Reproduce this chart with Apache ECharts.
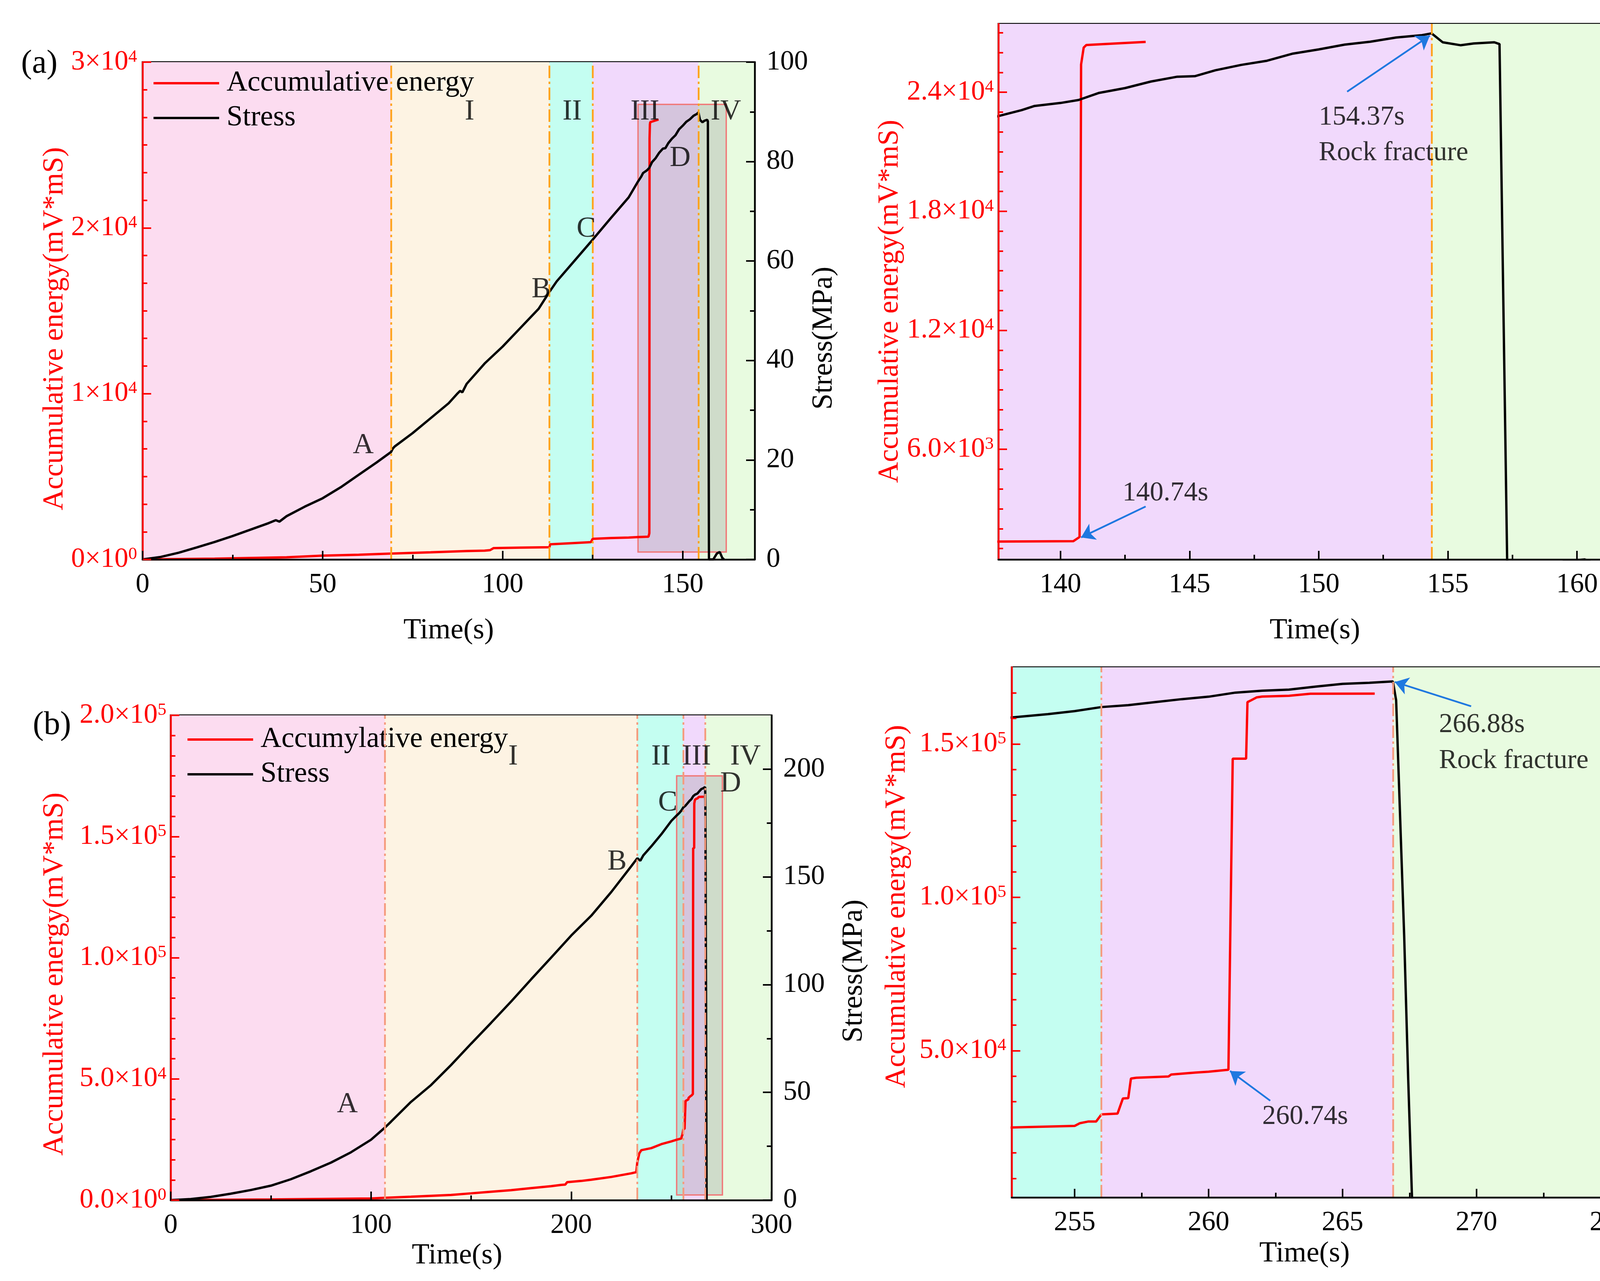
<!DOCTYPE html>
<html>
<head>
<meta charset="utf-8">
<script src="https://cdn.jsdelivr.net/npm/echarts@6/dist/echarts.min.js"></script>
<style>html,body{margin:0;padding:0;background:#fff}#chart{width:4451px;height:3279px}</style>
</head>
<body>
<div id="chart"></div>
<script>
// ---------- test (a) ----------
var aStressTime = [0, 5, 10, 15, 20, 25, 30, 35, 37, 38, 40, 45, 50, 55, 60, 65, 69, 69.5, 70, 75, 80, 85, 87.5, 88.2, 88.8, 90, 95, 100, 105, 110, 113, 115, 120, 125, 130, 135, 137.6, 138.5, 139, 140, 140.7, 141.5, 142.5, 143.5, 144.5, 145.2, 146, 147, 148, 149, 150, 151, 152, 153, 154, 154.37, 154.8, 155.5, 156, 156.8, 157, 157.3, 158.5, 159.5, 160.3, 161, 161.5];
var aStress = [0, 0.5, 1.35, 2.4, 3.5, 4.7, 6.0, 7.3, 7.9, 7.6, 8.7, 10.6, 12.3, 14.5, 17.0, 19.5, 21.6, 22.3, 22.7, 25.4, 28.4, 31.4, 33.4, 33.9, 33.6, 35.3, 39.4, 42.8, 46.6, 50.4, 53.8, 55.9, 60.1, 64.3, 68.6, 72.8, 76.0, 77.0, 77.7, 78.2, 78.7, 79.9, 80.7, 81.8, 82.6, 82.7, 83.7, 84.6, 85.3, 86.5, 87.2, 88.0, 88.5, 89.2, 89.6, 89.9, 88.4, 87.9, 88.2, 88.4, 88.1, 0, 0, 1.2, 1.5, 0.3, 0];
var aEnergyTime = [0, 20, 40, 50, 60, 69, 80, 90, 95, 96.5, 97.5, 105, 113, 113.2, 120, 124.5, 125, 130, 135, 137.6, 140.5, 140.74, 140.8, 140.9, 141, 142, 143.3];
var aEnergy = [0, 50, 127, 230, 280, 355, 430, 507, 530, 560, 685, 710, 735, 913, 990, 1040, 1243, 1293, 1320, 1349, 1370, 1580, 25400, 26250, 26380, 26450, 26540];
var aStageBounds = [0, 69, 113, 125, 154.37, 170];
var aStageNames = ['I', 'II', 'III', 'IV'];
var aStageNameTime = [90.8, 119.3, 139.5, 162];
var aStageNameStress = 90;
var aPointNames = ['A', 'B', 'C', 'D'];
var aPointTime = [61.3, 110.7, 123.2, 149.3];
var aPointStress = [22.9, 54.2, 66.4, 80.6];
var aZoomBox = [137.6, 162.1, 1.5, 91.5];
var aNotes = ['154.37s', 'Rock fracture', '140.74s'];
var aNoteTime = [150.0, 150.0, 142.4];
var aNoteStress = [75.8, 69.8, 12.6];
var aArrowFrom = [[151.1, 80.1], [143.3, 10.4]];
var aArrowTo = [[154.3, 89.5], [140.8, 5.2]];

// ---------- test (b) ----------
var bStressTime = [0, 10, 20, 30, 40, 50, 60, 70, 80, 90, 100, 107, 110, 120, 130, 140, 150, 160, 170, 180, 190, 200, 210, 220, 230, 233, 234.5, 236, 240, 245, 250, 252.65, 254, 255, 256, 257, 258, 259, 260, 261, 262, 263, 264, 265, 266, 266.88, 267.0, 267.3, 267.45, 267.6];
var bStress = [0, 0.5, 1.5, 3.0, 4.7, 6.7, 9.7, 13.4, 17.4, 22.2, 28.0, 33.7, 36.4, 45.6, 53.4, 62.7, 72.6, 82.3, 92.2, 102.5, 112.6, 122.8, 132.0, 143.0, 155.0, 158.7, 157.5, 160.0, 164.2, 169.8, 176.0, 178.5, 179.7, 180.8, 182.3, 183.0, 184.1, 185.2, 186.1, 187.6, 188.3, 188.7, 189.8, 190.8, 191.2, 191.7, 184.8, 98.5, 46.0, 0];
var bEnergyTime = [0, 50, 100, 107, 120, 140, 150, 160, 170, 180, 190, 195, 197, 198, 205, 210, 220, 230, 232.5, 233, 234, 235, 240, 245, 250, 252.65, 255, 255.2, 255.5, 255.8, 256, 256.6, 256.8, 257.0, 257.1, 257.3, 258.5, 258.6, 259.5, 260, 260.74, 260.9, 261.4, 261.45, 261.6, 261.8, 262, 262.5, 263, 263.8, 266.2];
var bEnergy = [0, 300, 700, 950, 1400, 2145, 2800, 3465, 4125, 4950, 5775, 6270, 6400, 7425, 7920, 8415, 9570, 11055, 11550, 15675, 19300, 20600, 21450, 23100, 24250, 24935, 25455, 26360, 26880, 26880, 29220, 29480, 34400, 34500, 40900, 41170, 41560, 42200, 42860, 43120, 43770, 145195, 145200, 163636, 164290, 165200, 165450, 165580, 165700, 166360, 166400];
var bStageBounds = [0, 107, 233, 256, 266.88, 300];
var bStageNames = ['I', 'II', 'III', 'IV'];
var bStageNameTime = [171, 244.8, 262.6, 287];
var bStageNameStress = 205.6;
var bPointNames = ['A', 'B', 'C', 'D'];
var bPointTime = [88.2, 222.9, 248.2, 279.6];
var bPointStress = [44.4, 156.9, 184.3, 193.1];
var bZoomBox = [252.65, 275.5, 2.4, 196.9];
var bNotes = ['266.88s', 'Rock fracture', '260.74s'];
var bNoteTime = [268.6, 268.6, 262.0];
var bNoteStress = [175.7, 162.6, 32.0];
var bArrowFrom = [[269.8, 182.6], [262.3, 37.9]];
var bArrowTo = [[266.95, 191.5], [260.8, 48.8]];

// tick values
var aTimeTicks = [0, 50, 100, 150], aTimeMinor = [25, 75, 125];
var aEnergyTicks = [0, 10000, 20000, 30000];
var aStressTicks = [0, 20, 40, 60, 80, 100], aStressMinor = [10, 30, 50, 70, 90];
var arTimeTicks = [140, 145, 150, 155, 160], arTimeMinor = [142.5, 147.5, 152.5, 157.5];
var arEnergyTicks = [6000, 12000, 18000, 24000];
var arStressTicks = [20, 40, 60, 80], arStressMinor = [10, 30, 50, 70, 90];
var bTimeTicks = [0, 100, 200, 300], bTimeMinor = [50, 150, 250];
var bEnergyTicks = [0, 50000, 100000, 150000, 200000];
var bStressTicks = [0, 50, 100, 150, 200], bStressMinor = [25, 75, 125, 175];
var brTimeTicks = [255, 260, 265, 270, 275], brTimeMinor = [257.5, 262.5, 267.5, 272.5];
var brEnergyTicks = [50000, 100000, 150000];
var brStressTicks = [50, 100, 150], brStressMinor = [25, 75, 125, 175];

var FONT = 'Liberation Serif';
var RED = '#ff0000';
var STAGE_COLORS = ['#fcdcf0', '#fdf3e3', '#c4fef1', '#f1d9fc', '#e8fbe0'];

function steps(from, to, step, majors) {
    var out = [];
    for (var v = from; v <= to + 1e-6; v += step) {
        var ok = true;
        for (var i = 0; i < majors.length; i++) {
            if (Math.abs(majors[i] - v) < 1e-3) ok = false;
        }
        if (ok) out.push(v);
    }
    return out;
}
function pairs(xs, ys) {
    return xs.map(function (x, i) { return [x, ys[i]]; });
}
function sci(dec) {
    return function (v) {
        var e = v === 0 ? 0 : Math.floor(Math.log10(Math.abs(v)) + 1e-9);
        return (v / Math.pow(10, e)).toFixed(dec) + '×10{s|' + e + '}';
    };
}
// shift a rotated axis name along the axis: positive = down on screen
function shift(px) {
    return px >= 0 ? [0, 2 * px, 0, 0] : [0, 0, 0, -2 * px];
}

var grids = [], xAxes = [], yAxes = [], series = [];

function axis(o) {
    var ax = {
        type: 'value', gridIndex: o.grid, position: o.pos, min: o.min, max: o.max, z: 10,
        splitLine: { show: false },
        axisLine: { show: !o.minor, onZero: false, lineStyle: { color: o.color, width: 4.5 } },
        axisTick: {
            show: true, inside: true, length: o.minor ? 12 : 22, customValues: o.ticks,
            lineStyle: { color: o.color, width: 4 }
        },
        axisLabel: { show: false }
    };
    if (!o.minor) {
        ax.axisLabel = {
            show: true, customValues: o.ticks, margin: o.margin, color: o.color,
            fontFamily: FONT, fontSize: 71, formatter: o.fmt,
            rich: { s: { fontFamily: FONT, fontSize: 45, color: o.color, verticalAlign: 'top' } }
        };
        ax.name = o.name;
        ax.nameLocation = 'middle';
        ax.nameGap = o.nameGap;
        if (o.rotate) ax.nameRotate = o.rotate;
        ax.nameTextStyle = {
            fontFamily: o.nameFont || FONT, fontSize: o.nameSize || 74, color: o.nameColor || o.color,
            padding: o.namePad || 0
        };
    }
    return ax;
}

function buildPanel(c) {
    var g = grids.length;
    grids.push({ left: c.left, top: c.top, width: c.width, height: c.height, show: true, borderColor: '#000', borderWidth: 4.5 });
    var xi = xAxes.length, yi = yAxes.length;
    xAxes.push(axis({ grid: g, pos: 'bottom', min: c.x[0], max: c.x[1], ticks: c.xTicks, color: '#000', margin: c.xMargin, name: 'Time(s)', nameGap: c.xNameGap, nameColor: '#000', namePad: c.xNamePad }));
    xAxes.push(axis({ grid: g, pos: 'bottom', min: c.x[0], max: c.x[1], ticks: c.xMinor, color: '#000', minor: true }));
    yAxes.push(axis({ grid: g, pos: 'left', min: c.e[0], max: c.e[1], ticks: c.eTicks, color: RED, margin: c.eMargin, fmt: sci(c.eDec), name: 'Accumulative energy(mV*mS)', nameGap: c.eNameGap, rotate: 90, namePad: shift(c.eNameShift) }));
    yAxes.push(axis({ grid: g, pos: 'left', min: c.e[0], max: c.e[1], ticks: c.eMinor, color: RED, minor: true }));
    yAxes.push(axis({ grid: g, pos: 'right', min: c.s[0], max: c.s[1], ticks: c.sTicks, color: '#000', margin: c.sMargin, name: c.sName, nameGap: c.sNameGap, rotate: 90, nameFont: c.sNameFont, nameSize: c.sNameSize, nameColor: '#000', namePad: shift(c.sNameShift) }));
    yAxes.push(axis({ grid: g, pos: 'right', min: c.s[0], max: c.s[1], ticks: c.sMinor, color: '#000', minor: true }));

    // coloured stages and dash-dot boundaries
    var bands = [], lines = [];
    for (var i = 0; i < c.stages.length - 1; i++) {
        var lo = Math.max(c.stages[i], c.x[0]), hi = Math.min(c.stages[i + 1], c.x[1]);
        if (hi > lo) bands.push([{ xAxis: lo, itemStyle: { color: STAGE_COLORS[i] } }, { xAxis: hi }]);
        if (i > 0 && c.stages[i] > c.x[0] && c.stages[i] < c.x[1]) lines.push({ xAxis: c.stages[i] });
    }
    series.push({
        type: 'line', data: [], xAxisIndex: xi, yAxisIndex: yi + 2, z: 1, silent: true,
        markArea: { silent: true, data: bands },
        markLine: { silent: true, symbol: 'none', label: { show: false }, lineStyle: { type: [32, 9, 6, 9], color: c.dashColor, width: 4.5 }, data: lines }
    });
    series.push({
        type: 'line', name: c.eLegend, xAxisIndex: xi, yAxisIndex: yi, z: 3, symbol: 'none',
        lineStyle: { color: RED, width: 6 }, itemStyle: { color: RED }, data: pairs(c.eTime, c.eVal)
    });
    series.push({
        type: 'line', name: 'Stress', xAxisIndex: xi, yAxisIndex: yi + 2, z: 3, symbol: 'none',
        lineStyle: { color: '#000', width: 6 }, itemStyle: { color: '#000' }, data: pairs(c.sTime, c.sVal)
    });
    if (c.box) {
        series.push({
            type: 'line', data: [], xAxisIndex: xi, yAxisIndex: yi + 2, z: 5, silent: true,
            markArea: {
                silent: true,
                itemStyle: { color: 'rgba(155,155,155,0.32)', borderColor: '#f07878', borderWidth: 3.5 },
                data: [[{ coord: [c.box[0], c.box[3]] }, { coord: [c.box[1], c.box[2]] }]]
            }
        });
    }
    if (c.texts.length) {
        series.push({
            type: 'scatter', xAxisIndex: xi, yAxisIndex: yi + 2, z: 6, silent: true, symbolSize: 0,
            label: { show: true, position: 'inside', formatter: '{b}', color: '#000', fontFamily: FONT, fontSize: c.textSize || 74 },
            data: c.texts
        });
    }
    if (c.arrows) {
        series.push({
            type: 'line', data: [], xAxisIndex: xi, yAxisIndex: yi + 2, z: 6, silent: true,
            markLine: {
                silent: true, symbol: ['none', 'arrow'], symbolSize: 34, label: { show: false },
                lineStyle: { type: 'solid', color: '#1f78e0', width: 4.5 },
                data: c.arrows[0].map(function (f, i) { return [{ coord: f }, { coord: c.arrows[1][i] }]; })
            }
        });
    }
}

function centred(names, xs, ys) {
    return names.map(function (n, i) {
        return { name: n, value: [xs[i], Array.isArray(ys) ? ys[i] : ys] };
    });
}
function leftAligned(names, xs, ys) {
    return names.map(function (n, i) {
        return { name: n, value: [xs[i], ys[i]], label: { align: 'left' } };
    });
}

// (a) full test
buildPanel({
    left: 365, top: 159, width: 1567, height: 1273,
    x: [0, 170], xTicks: aTimeTicks, xMinor: aTimeMinor, xMargin: 30, xNameGap: 146, xNamePad: 0,
    e: [0, 30000], eTicks: aEnergyTicks, eMinor: steps(0, 30000, 10000 / 6, aEnergyTicks), eDec: 0, eMargin: 14, eNameGap: 185, eNameShift: 46,
    s: [0, 100], sTicks: aStressTicks, sMinor: aStressMinor, sMargin: 30, sNameGap: 120, sName: 'Stress(MPa)', sNameShift: 70,
    stages: aStageBounds, dashColor: '#ffa21a',
    eTime: aEnergyTime, eVal: aEnergy, eLegend: 'Accumulative energy', sTime: aStressTime, sVal: aStress,
    box: aZoomBox,
    texts: centred(aStageNames, aStageNameTime, aStageNameStress).concat(centred(aPointNames, aPointTime, aPointStress))
});
// (a) zoom
buildPanel({
    left: 2556, top: 61, width: 1620, height: 1371,
    x: [137.6, 162.1], xTicks: arTimeTicks, xMinor: arTimeMinor, xMargin: 30, xNameGap: 146, xNamePad: 0,
    e: [450, 27450], eTicks: arEnergyTicks, eMinor: steps(1000, 27000, 1000, arEnergyTicks), eDec: 1, eMargin: 12, eNameGap: 240, eNameShift: 25,
    s: [1.5, 91.5], sTicks: arStressTicks, sMinor: arStressMinor, sMargin: 27, sNameGap: 150, sName: 'Stress(MPa)', sNameShift: -28,
    sNameFont: 'Liberation Mono', sNameSize: 62,
    stages: aStageBounds, dashColor: '#ffa21a',
    eTime: aEnergyTime, eVal: aEnergy, eLegend: 'Accumulative energy', sTime: aStressTime, sVal: aStress,
    texts: leftAligned(aNotes, aNoteTime, aNoteStress), textSize: 70,
    arrows: [aArrowFrom, aArrowTo]
});
// (b) full test
buildPanel({
    left: 437, top: 1831, width: 1538, height: 1241,
    x: [0, 300], xTicks: bTimeTicks, xMinor: bTimeMinor, xMargin: 30, xNameGap: 106, xNamePad: [0, 72, 0, 0],
    e: [0, 200000], eTicks: bEnergyTicks, eMinor: steps(0, 200000, 50000 / 6, bEnergyTicks), eDec: 1, eMargin: 11, eNameGap: 259, eNameShift: 42,
    s: [0, 225], sTicks: bStressTicks, sMinor: bStressMinor, sMargin: 30, sNameGap: 175, sName: 'Stress(MPa)', sNameShift: 34,
    stages: bStageBounds, dashColor: '#f59a7c',
    eTime: bEnergyTime, eVal: bEnergy, eLegend: 'Accumylative energy', sTime: bStressTime, sVal: bStress,
    box: bZoomBox,
    texts: centred(bStageNames, bStageNameTime, bStageNameStress).concat(centred(bPointNames, bPointTime, bPointStress))
});
// (b) zoom
buildPanel({
    left: 2590, top: 1708, width: 1567, height: 1357,
    x: [252.65, 275.5], xTicks: brTimeTicks, xMinor: brTimeMinor, xMargin: 30, xNameGap: 108, xNamePad: [0, 68, 0, 0],
    e: [2150, 175000], eTicks: brEnergyTicks, eMinor: steps(50000 / 6, 170000, 50000 / 6, brEnergyTicks), eDec: 1, eMargin: 14, eNameGap: 256, eNameShift: -66,
    s: [2.42, 196.9], sTicks: brStressTicks, sMinor: brStressMinor, sMargin: 25, sNameGap: 179, sName: 'Stress(MPa)', sNameShift: 26,
    stages: bStageBounds, dashColor: '#f59a7c',
    eTime: bEnergyTime, eVal: bEnergy, eLegend: 'Accumylative energy', sTime: bStressTime, sVal: bStress,
    texts: leftAligned(bNotes, bNoteTime, bNoteStress), textSize: 70,
    arrows: [bArrowFrom, bArrowTo]
});

var chart = echarts.init(document.getElementById('chart'));
chart.setOption({
    animation: false,
    backgroundColor: '#fff',
    textStyle: { fontFamily: FONT },
    grid: grids,
    xAxis: xAxes,
    yAxis: yAxes,
    legend: [
        {
            left: 388, top: 171, orient: 'vertical', itemWidth: 168, itemHeight: 6, itemGap: 15, icon: 'rect',
            selectedMode: false, data: ['Accumulative energy', 'Stress'],
            textStyle: { fontFamily: FONT, fontSize: 74, color: '#000', padding: [0, 0, 0, 14] }
        },
        {
            left: 475, top: 1851, orient: 'vertical', itemWidth: 168, itemHeight: 6, itemGap: 15, icon: 'rect',
            selectedMode: false, data: ['Accumylative energy', 'Stress'],
            textStyle: { fontFamily: FONT, fontSize: 74, color: '#000', padding: [0, 0, 0, 14] }
        }
    ],
    graphic: [
        { type: 'text', left: 54, top: 122, style: { text: '(a)', font: '84px "Liberation Serif"', fill: '#000' } },
        { type: 'text', left: 84, top: 1815, style: { text: '(b)', font: '84px "Liberation Serif"', fill: '#000' } }
    ],
    series: series
});
</script>
</body>
</html>
